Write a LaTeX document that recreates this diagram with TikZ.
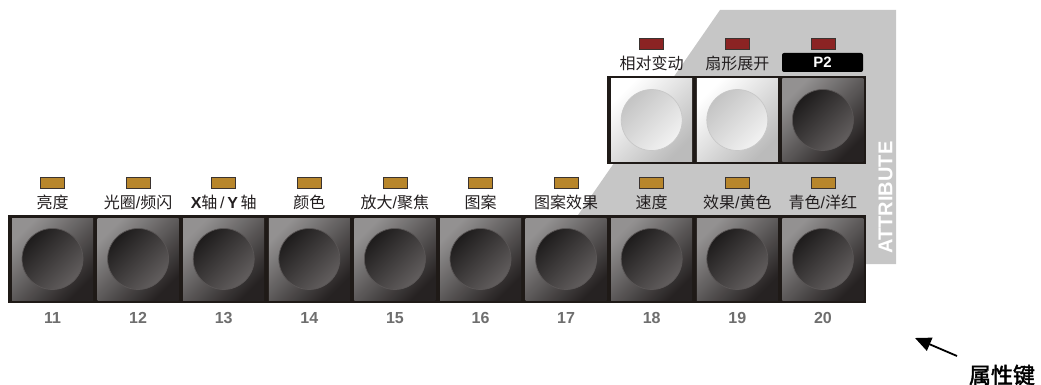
\documentclass[tikz,border=0pt]{standalone}
\usepackage{fontspec}
\setmainfont{Liberation Sans}
\newfontfamily\cjk[AutoFakeBold=2]{Noto Sans CJK SC}
\usetikzlibrary{arrows.meta}
\definecolor{bggrey}{HTML}{C6C6C6}
\definecolor{framecol}{HTML}{1F1A17}
\definecolor{btnhi}{HTML}{939191}
\definecolor{btnlo}{HTML}{262222}
\definecolor{caplo}{HTML}{1E1C1C}
\definecolor{caphi}{HTML}{625E5E}
\definecolor{capedge}{HTML}{5A5656}
\definecolor{lbtnhi}{HTML}{FFFFFF}
\definecolor{lbtnlo}{HTML}{BBBBBB}
\definecolor{lcaplo}{HTML}{C4C4C4}
\definecolor{lcaphi}{HTML}{F2F2F2}
\definecolor{lcapedge}{HTML}{C8C8C8}
\definecolor{amber}{HTML}{B8862B}
\definecolor{ledred}{HTML}{8B2323}
\definecolor{ledrim}{HTML}{3A3330}
\definecolor{lblcol}{HTML}{231F20}
\definecolor{numcol}{HTML}{6E6E6E}
\newcommand\lat[1]{{\rmfamily\bfseries #1}}
\newcommand\slh{{\rmfamily /}}
\begin{document}
\begin{tikzpicture}[x=1pt,y=-1pt,
  darkbtn/.style={rectangle, minimum width=81pt, minimum height=82pt, inner sep=0pt,
    top color=btnhi, bottom color=btnlo, shading angle=45},
  darkcap/.style={circle, minimum size=61pt, inner sep=0pt,
    top color=caplo, bottom color=caphi, shading angle=45, draw=capedge, line width=0.7pt},
  lightbtn/.style={rectangle, minimum width=81pt, minimum height=82pt, inner sep=0pt,
    top color=lbtnhi, bottom color=lbtnlo, shading angle=45},
  lightcap/.style={circle, minimum size=61pt, inner sep=0pt,
    top color=lcaplo, bottom color=lcaphi, shading angle=45, draw=lcapedge, line width=0.7pt},
  led/.style={rectangle, minimum width=24pt, minimum height=11pt, inner sep=0pt,
    draw=ledrim, line width=0.6pt},
  lbl/.style={font=\cjk\fontsize{16}{16}\selectfont, text=lblcol, inner sep=0pt},
  num/.style={font=\bfseries\fontsize{16}{16}\selectfont, text=numcol, inner sep=0pt},
  keylbl/.style={font=\cjk\bfseries\fontsize{22}{22}\selectfont, text=black, inner sep=0pt}
]
\useasboundingbox (0,0) rectangle (1041,385);
% grey attribute background
\fill[bggrey] (720,10) -- (896,10) -- (896,264) -- (700,264) -- (700,215) -- (578,215) -- cycle;
\node[rotate=90, font=\bfseries\fontsize{20}{20}\selectfont, text=white, inner sep=0pt] (attr) at (885.5,197.5) {ATTRIBUTE};
% frames
\fill[framecol] (8,215) rectangle (866,303);
\fill[framecol] (607,76) rectangle (866,164);
% bottom row
\foreach \n [count=\k from 0] in {11,...,20}{
  \pgfmathsetmacro\cx{52.5+85.6*\k}
  \node[darkbtn] (b\n) at (\cx,259) {};
  \node[darkcap] (c\n) at (b\n) {};
  \node[led, fill=amber] (l\n) at (\cx,182.5) {};
  \node[num] (n\n) at (\cx,318) {\n};
}
\node[lbl] (t11) at (52.5,202) {亮度};
\node[lbl] (t12) at (138.1,202) {光圈\slh 频闪};
\node[lbl] (t13) at (223.7,202) {\lat{X}轴\,\slh\,\lat{Y}\,轴};
\node[lbl] (t14) at (309.3,202) {颜色};
\node[lbl] (t15) at (394.9,202) {放大\slh 聚焦};
\node[lbl] (t16) at (480.5,202) {图案};
\node[lbl] (t17) at (566.1,202) {图案效果};
\node[lbl] (t18) at (651.7,202) {速度};
\node[lbl] (t19) at (737.3,202) {效果\slh 黄色};
\node[lbl] (t20) at (822.9,202) {青色\slh 洋红};
% top row
\node[lightbtn] (p1) at (651.7,120) {};
\node[lightcap] (q1) at (p1) {};
\node[lightbtn] (p2) at (737.3,120) {};
\node[lightcap] (q2) at (p2) {};
\node[darkbtn] (p3) at (822.9,120) {};
\node[darkcap] (q3) at (p3) {};
\foreach \x [count=\j] in {651.7,737.3,822.9}{
  \node[led, fill=ledred] (r\j) at (\x,44) {};
}
\node[lbl] (u1) at (651.7,63) {相对变动};
\node[lbl] (u2) at (737.3,63) {扇形展开};
\node[fill=black, rounded corners=2pt, minimum width=81pt, minimum height=19pt, inner sep=0pt,
  text=white, font=\bfseries\fontsize{15}{15}\selectfont] (u3) at (822.5,62.5) {P2};
% key label and arrow
\node[keylbl] (key) at (1002,375) {属性键};
\coordinate (atail) at (957,356);
\coordinate (atip) at (915,338);
\draw[line width=1.8pt, -{Triangle[length=16pt,width=14pt]}] (atail) -- (atip);
\end{tikzpicture}
\end{document}
